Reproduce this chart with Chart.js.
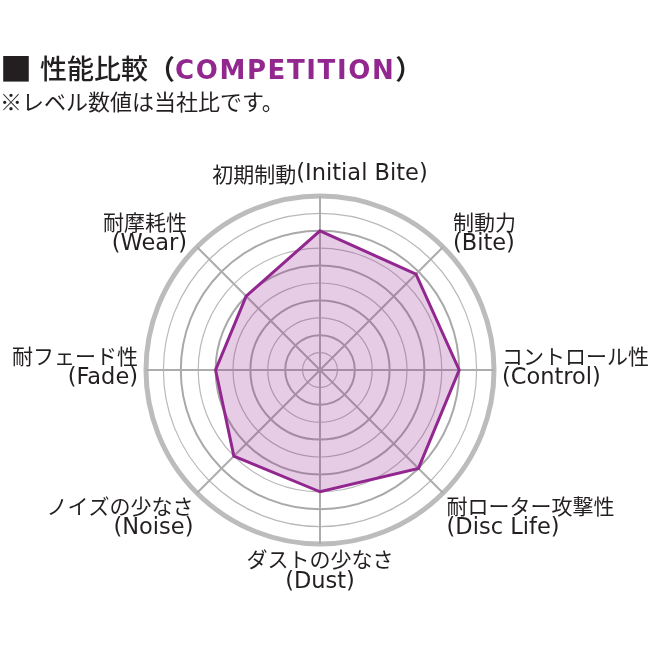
<!DOCTYPE html>
<html lang="ja">
<head>
<meta charset="utf-8">
<title>性能比較（COMPETITION）</title>
<script src="https://cdn.jsdelivr.net/npm/chart.js@4.4.1/dist/chart.umd.min.js"></script>
<style>
    html, body {
        margin: 0;
        padding: 0;
        background: #ffffff;
    }
    #wrap {
        position: relative;
        width: 650px;
        height: 650px;
        overflow: hidden;
    }
    #perf-chart-holder {
        position: absolute;
        left: 0;
        top: 0;
        width: 650px;
        height: 650px;
    }
    .perf-title {
        position: absolute;
        left: 0;
        top: 51px;
        margin: 0;
        font-family: "Noto Sans CJK JP", "Noto Sans", sans-serif;
        font-size: 27px;
        line-height: 34px;
        font-weight: 500;
        color: #231f20;
        white-space: nowrap;
    }
    .perf-title .mark {
        font-size: 32px;
        line-height: 1;
        vertical-align: -2px;
        margin-right: 2px;
    }
    .perf-title .paren {
        font-weight: 700;
    }
    .perf-title .grade {
        font-family: "DejaVu Sans", "Liberation Sans", sans-serif;
        font-weight: 700;
        font-size: 26px;
        color: #92278f;
        letter-spacing: 1.6px;
    }
    .perf-note {
        position: absolute;
        left: 0;
        top: 86px;
        margin: 0;
        font-family: "Noto Sans CJK JP", "Noto Sans", sans-serif;
        font-size: 22px;
        line-height: 28px;
        color: #231f20;
        white-space: nowrap;
    }
</style>
</head>
<body>
<div id="wrap">
    <div id="perf-chart-holder">
        <canvas id="perf-chart-canvas"></canvas>
    </div>
    <h1 class="perf-title"><span class="mark">■</span> 性能比較<span class="paren">（</span><span class="grade">COMPETITION</span><span class="paren">）</span></h1>
    <p class="perf-note">※レベル数値は当社比です。</p>
</div>
<script>
    // axis names, clockwise from the top
    var axisNamesJa = ['初期制動', '制動力', 'コントロール性', '耐ローター攻撃性', 'ダストの少なさ', 'ノイズの少なさ', '耐フェード性', '耐摩耗性'];
    var axisNamesEn = ['Initial Bite', 'Bite', 'Control', 'Disc Life', 'Dust', 'Noise', 'Fade', 'Wear'];
    // the top label is written on one line, the others on two
    var singleLineAxes = [0];
    // level values for the COMPETITION pad (0-10)
    var competitionLevels = [8, 7.8, 8, 8, 7, 7, 6, 6];
    var levelMin = 0;
    var levelMax = 10;
    var levelStep = 1;

    // each line is a list of runs: [japanese, english]
    var axisLabels = axisNamesJa.map(function (ja, i) {
        var en = '(' + axisNamesEn[i] + ')';
        return singleLineAxes.indexOf(i) >= 0 ? [ja + en] : [ja, en];
    });

    var jaFont = '21px "Noto Sans CJK JP", sans-serif';
    var enFont = '22.5px "DejaVu Sans", sans-serif';

    function splitRuns(text) {
        var k = text.indexOf('(');
        if (k <= 0) return [text];
        return [text.slice(0, k), text.slice(k)];
    }

    function runFont(run) {
        return /^[\x00-\x7F]+$/.test(run) ? enFont : jaFont;
    }

    // draws the axis names round the outer ring
    var axisNamePlugin = {
        id: 'axisNames',
        afterDraw: function (chart) {
            var scale = chart.scales.r;
            var ctx = chart.ctx;
            var lineH = 22.5;
            ctx.save();
            ctx.fillStyle = '#231f20';
            ctx.textBaseline = 'middle';
            ctx.textAlign = 'left';
            chart.data.labels.forEach(function (lines, i) {
                var u = scale.getPointPosition(i, 100);
                var nx = (u.x - scale.xCenter) / 100;
                var ny = (u.y - scale.yCenter) / 100;
                var extra = ny > 0.3 ? 5 : (ny < -0.3 ? 14 : 8);
                var p = scale.getPointPosition(i, scale.drawingArea + extra);
                var align = nx > 0.3 ? 'left' : (nx < -0.3 ? 'right' : 'center');
                var h = lines.length * lineH;
                var top;
                if (ny < -0.9) {
                    top = p.y + 3 - h;
                } else if (ny > 0.9) {
                    top = p.y - 1;
                } else if (ny > 0.3) {
                    top = p.y - 2;
                } else if (ny < -0.3) {
                    top = p.y - 4 - h / 2;
                } else {
                    top = p.y - 3 - h / 2;
                }
                lines.forEach(function (line, k) {
                    var runs = splitRuns(line);
                    var widths = runs.map(function (r) {
                        ctx.font = runFont(r);
                        return ctx.measureText(r).width;
                    });
                    var total = widths.reduce(function (a, b) { return a + b; }, 0);
                    var x = align === 'left' ? p.x : (align === 'right' ? p.x - total : p.x - total / 2);
                    var y = top + lineH * (k + 0.5);
                    runs.forEach(function (r, j) {
                        ctx.font = runFont(r);
                        ctx.fillText(r, x, y);
                        x += widths[j];
                    });
                });
            });
            ctx.restore();
        }
    };

    var canvas = document.getElementById('perf-chart-canvas');
    var perfChart = new Chart(canvas.getContext('2d'), {
        type: 'radar',
        data: {
            labels: axisLabels,
            datasets: [{
                label: 'COMPETITION',
                data: competitionLevels,
                borderColor: '#92278f',
                backgroundColor: 'rgba(146, 39, 143, 0.23)',
                borderWidth: 3,
                borderJoinStyle: 'miter',
                fill: true,
                pointRadius: 0,
                pointHoverRadius: 0
            }]
        },
        options: {
            responsive: true,
            maintainAspectRatio: false,
            animation: false,
            events: [],
            layout: {
                padding: {
                    left: 146,
                    right: 156,
                    top: 196,
                    bottom: 106
                }
            },
            plugins: {
                legend: { display: false },
                tooltip: { enabled: false }
            },
            scales: {
                r: {
                    min: levelMin,
                    max: levelMax,
                    ticks: {
                        stepSize: levelStep,
                        display: false
                    },
                    pointLabels: { display: false },
                    angleLines: {
                        display: true,
                        color: '#adadad',
                        lineWidth: 2
                    },
                    grid: {
                        circular: true,
                        color: function (context) {
                            if (context.index === levelMax) return '#bcbcbc';
                            return context.index % 2 === 0 ? '#a9a9a9' : '#b9b9b9';
                        },
                        lineWidth: function (context) {
                            if (context.index === levelMax) return 5;
                            return context.index % 2 === 0 ? 2 : 1.2;
                        }
                    }
                }
            }
        },
        plugins: [axisNamePlugin]
    });
</script>
</body>
</html>
